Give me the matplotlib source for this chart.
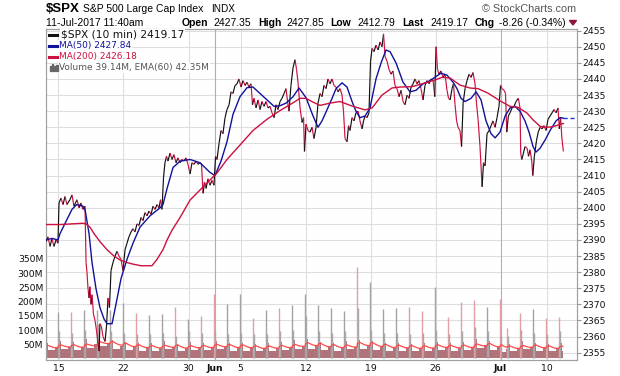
import numpy as np
import matplotlib
matplotlib.use("Agg")
import matplotlib.pyplot as plt
from matplotlib.collections import LineCollection
from matplotlib.patches import Polygon, Rectangle
from matplotlib.lines import Line2D
from matplotlib.transforms import blended_transform_factory

plt.rcParams['font.family'] = ['DejaVu Sans']

# trading days on the chart (May 12 only partly visible, Jul 11 still live)
days = ['May 12', 'May 15', 'May 16', 'May 17', 'May 18', 'May 19', 'May 22', 'May 23',
        'May 24', 'May 25', 'May 26', 'May 30', 'May 31', 'Jun 1', 'Jun 2', 'Jun 5',
        'Jun 6', 'Jun 7', 'Jun 8', 'Jun 9', 'Jun 12', 'Jun 13', 'Jun 14', 'Jun 15',
        'Jun 16', 'Jun 19', 'Jun 20', 'Jun 21', 'Jun 22', 'Jun 23', 'Jun 26', 'Jun 27',
        'Jun 28', 'Jun 29', 'Jun 30', 'Jul 3', 'Jul 5', 'Jul 6', 'Jul 7', 'Jul 10', 'Jul 11']
day_bars = [39] * 35 + [21] + [39] * 5          # 10 min bars per session (Jul 3 half day)

tick_days = ['May 15', 'May 22', 'May 30', 'Jun 1', 'Jun 5', 'Jun 12', 'Jun 19', 'Jun 26', 'Jul 3', 'Jul 10']
tick_labels = ['15', '22', '30', 'Jun', '5', '12', '19', '26', 'Jul', '10']

# $SPX 10 min closes, time in trading days from the May 15 open
price_t = [-0.96, -0.81, -0.65, -0.50, -0.35, -0.19, -0.04, 0.04, 0.19, 0.35,
           0.50, 0.65, 0.88, 1.04, 1.19, 1.42, 1.58, 1.73, 1.88, 2.04,
           2.12, 2.19, 2.27, 2.35, 2.42, 2.50, 2.58, 2.69, 2.81, 2.92,
           3.04, 3.12, 3.19, 3.31, 3.42, 3.58, 3.69, 3.81, 3.92, 4.04,
           4.19, 4.35, 4.50, 4.65, 4.81, 4.96, 5.12, 5.27, 5.42, 5.58,
           5.73, 5.88, 6.04, 6.19, 6.35, 6.50, 6.65, 6.81, 6.96, 7.12,
           7.27, 7.42, 7.58, 7.73, 7.85, 7.96, 8.08, 8.19, 8.31, 8.42,
           8.58, 8.73, 8.88, 9.04, 9.19, 9.35, 9.50, 9.65, 9.81, 9.96,
           10.12, 10.27, 10.42, 10.58, 10.73, 10.88, 11.00, 11.12, 11.23, 11.35,
           11.50, 11.65, 11.81, 11.96, 12.08, 12.19, 12.35, 12.50, 12.65, 12.81,
           12.96, 13.12, 13.27, 13.42, 13.58, 13.73, 13.88, 14.04, 14.19, 14.35,
           14.50, 14.65, 14.81, 14.92, 15.04, 15.19, 15.35, 15.50, 15.65, 15.81,
           15.96, 16.12, 16.27, 16.42, 16.58, 16.73, 16.88, 17.04, 17.19, 17.35,
           17.50, 17.62, 17.73, 17.88, 18.04, 18.19, 18.31, 18.42, 18.58, 18.73,
           18.85, 18.92, 19.04, 19.19, 19.35, 19.50, 19.65, 19.81, 19.96, 20.12,
           20.27, 20.42, 20.58, 20.73, 20.88, 21.04, 21.19, 21.35, 21.50, 21.65,
           21.81, 21.92, 22.04, 22.19, 22.31, 22.42, 22.58, 22.73, 22.88, 23.04,
           23.19, 23.35, 23.46, 23.58, 23.73, 23.88, 24.00, 24.12, 24.27, 24.42,
           24.58, 24.73, 24.88, 25.00, 25.12, 25.27, 25.42, 25.58, 25.73, 25.88,
           26.04, 26.19, 26.35, 26.50, 26.65, 26.81, 26.96, 27.12, 27.27, 27.42,
           27.58, 27.73, 27.88, 28.04, 28.19, 28.35, 28.50, 28.65, 28.81, 28.94,
           29.04, 29.15, 29.27, 29.42, 29.58, 29.73, 29.88, 30.00, 30.12, 30.27,
           30.38, 30.50, 30.62, 30.73, 30.88, 31.00, 31.12, 31.27, 31.42, 31.58,
           31.73, 31.88, 32.04, 32.15, 32.27, 32.42, 32.58, 32.69, 32.81, 32.96,
           33.12, 33.27, 33.42, 33.58, 33.73, 33.88, 34.00, 34.12, 34.27, 34.38,
           34.48, 34.60, 34.73, 34.88, 35.04, 35.19, 35.37, 35.50, 35.55, 35.63,
           35.73, 35.88, 36.04, 36.15, 36.27, 36.40, 36.48, 36.60, 36.77, 36.90,
           37.04, 37.19, 37.35, 37.50, 37.65, 37.81, 37.96, 38.12, 38.27, 38.42,
           38.52, 38.62, 38.71, 38.83]
price_v = [2389.5, 2391, 2388, 2390.5, 2388, 2390, 2389, 2401.5, 2403, 2401,
           2403.5, 2401, 2402.5, 2404, 2400.5, 2402.5, 2400, 2401.5, 2399.5, 2400.5,
           2383, 2380, 2375, 2372, 2375.5, 2370, 2373, 2367, 2365, 2362,
           2358, 2355.5, 2364, 2363, 2360, 2358.5, 2363, 2372, 2369, 2380.5,
           2383, 2385, 2386.5, 2385, 2384, 2380.5, 2387, 2389, 2391, 2392.5,
           2393.5, 2392.5, 2395, 2394.5, 2397, 2396, 2398.5, 2397.5, 2399, 2398,
           2400.5, 2399.5, 2401, 2400, 2402.5, 2399.5, 2409.5, 2414, 2416, 2414.5,
           2417, 2415, 2416.5, 2414, 2415.5, 2414, 2415, 2414.5, 2415.5, 2413.5,
           2410.5, 2414, 2413.5, 2414.5, 2413.5, 2414, 2413.5, 2404.5, 2408, 2406,
           2409, 2407, 2408.5, 2407, 2416, 2415, 2420, 2424, 2423, 2428,
           2430.5, 2432, 2436, 2435.5, 2438, 2438.5, 2440, 2437.5, 2439.5, 2438,
           2439, 2437.5, 2438.5, 2432, 2434, 2431, 2433.5, 2430.5, 2433, 2431.5,
           2433, 2431, 2431.5, 2429.5, 2428, 2432, 2430.5, 2433, 2434, 2435.5,
           2437, 2433, 2430, 2438, 2443.5, 2446, 2443, 2439, 2431, 2426.5,
           2428, 2417.5, 2426, 2424, 2423.5, 2425, 2421.5, 2425, 2432.5, 2435.5,
           2434.5, 2438, 2437, 2440, 2438.5, 2440, 2438, 2437.5, 2436, 2437,
           2435, 2430, 2421.5, 2420.5, 2425.5, 2424, 2428, 2427, 2429.5, 2430,
           2427, 2424.5, 2427, 2428.5, 2428, 2429.5, 2445.5, 2449.5, 2448.5, 2450.5,
           2449, 2451.5, 2450, 2454, 2447, 2445.5, 2443, 2441.5, 2442.5, 2438,
           2437, 2434.5, 2436.5, 2433, 2432, 2435, 2434, 2437.5, 2438.5, 2440,
           2438.5, 2439.5, 2437, 2433.5, 2438, 2439.5, 2438.5, 2440, 2439.5, 2434.5,
           2450, 2443, 2441.5, 2442.5, 2440.5, 2441.5, 2436.5, 2434, 2433.5, 2437,
           2438.5, 2432, 2427, 2425, 2424, 2419, 2432.5, 2437, 2439.5, 2441.5,
           2440.5, 2442, 2438.5, 2432.5, 2427.5, 2419, 2406.5, 2414, 2413, 2423,
           2424, 2425.5, 2427, 2425, 2428, 2431.5, 2438, 2437, 2436.5, 2435.5,
           2423.5, 2428.5, 2429.5, 2431, 2431.5, 2433, 2434, 2431, 2417, 2415,
           2416.5, 2419, 2418.5, 2416, 2418, 2414.5, 2410, 2416, 2421, 2423.5,
           2425, 2424.5, 2425.5, 2424, 2427.5, 2428.5, 2429.5, 2430.5, 2429.5, 2431,
           2424.5, 2428, 2422, 2417.5]

ma50_t = [-0.96, -0.50, -0.04, 0.12, 0.63, 1.04, 1.40, 1.88, 2.04, 2.35,
          2.58, 2.88, 3.19, 3.50, 3.73, 4.12, 4.42, 4.81, 5.27, 5.73,
          6.27, 7.04, 7.81, 8.04, 8.35, 8.81, 9.35, 10.12, 10.88, 11.65,
          12.04, 12.50, 12.96, 13.42, 13.96, 14.50, 14.96, 15.50, 16.04, 16.58,
          17.04, 17.50, 18.04, 18.50, 19.04, 19.58, 19.96, 20.27, 20.65, 21.04,
          21.35, 21.81, 22.19, 22.58, 22.88, 23.19, 23.58, 23.96, 24.42, 24.81,
          25.19, 25.50, 25.96, 26.50, 27.04, 27.50, 28.04, 28.58, 29.12, 29.42,
          29.88, 30.35, 30.65, 30.96, 31.27, 31.73, 32.12, 32.50, 32.88, 33.27,
          33.58, 33.96, 34.35, 34.73, 35.12, 35.50, 35.88, 36.19, 36.50, 36.73,
          37.04, 37.42, 37.81, 38.27, 38.58, 38.83]
ma50_v = [2390, 2390.5, 2390, 2392, 2396.2, 2399.5, 2401, 2400.5, 2399.5, 2392,
          2383, 2375, 2369, 2365.5, 2364, 2364, 2370, 2378, 2384, 2389,
          2394, 2397.5, 2400, 2401, 2406, 2412.5, 2414.5, 2415, 2414, 2411,
          2410, 2414.5, 2420.5, 2429, 2434.5, 2437.3, 2437.5, 2435.5, 2433.5, 2431.5,
          2431.7, 2432.5, 2434.5, 2437.2, 2434.2, 2428.5, 2425, 2427, 2430.4, 2434,
          2437, 2438.8, 2437.5, 2433, 2430, 2428, 2428.5, 2431, 2440, 2445,
          2449, 2448.5, 2445, 2439, 2436, 2436.5, 2438.5, 2439.5, 2441, 2441.8,
          2441.2, 2439, 2437, 2434, 2433, 2434, 2436, 2433.5, 2427, 2423,
          2421.7, 2423.5, 2428.5, 2431, 2431.5, 2430, 2427, 2423.5, 2419, 2417.3,
          2418.5, 2421, 2424, 2427, 2428, 2427.84]

ma200_t = [-0.96, 0.12, 1.04, 1.88, 2.12, 2.42, 2.73, 3.19, 3.73, 4.27,
           4.73, 5.27, 5.73, 6.35, 6.73, 7.19, 7.58, 8.04, 8.35, 8.73,
           9.35, 10.12, 10.88, 11.42, 12.19, 12.96, 13.96, 14.96, 16.04, 17.04,
           18.04, 18.58, 19.04, 19.58, 20.12, 20.88, 21.65, 22.58, 23.58, 24.12,
           24.88, 25.65, 26.27, 27.19, 27.96, 28.88, 29.50, 30.12, 30.88, 31.65,
           32.27, 33.04, 33.96, 34.73, 35.35, 36.04, 36.50, 37.04, 37.58, 38.04,
           38.42, 38.83]
ma200_v = [2394.8, 2394.8, 2395, 2395.2, 2395, 2394, 2392, 2389.5, 2387, 2385,
           2383.8, 2383, 2382.5, 2382, 2382, 2382, 2384, 2387, 2390, 2393,
           2397, 2402.4, 2405.5, 2407.7, 2410.8, 2415, 2419.5, 2424, 2427.5, 2430.2,
           2432.6, 2434, 2434, 2432.8, 2431.8, 2432.5, 2433, 2431.6, 2430.4, 2431,
           2435, 2437.2, 2437.5, 2437.6, 2438.5, 2439.6, 2440.5, 2440.3, 2438.1, 2437.2,
           2437, 2435.6, 2433.2, 2431.5, 2431.2, 2429.4, 2427.3, 2425.3, 2425, 2425.2,
           2425.7, 2426.18]

# volume (millions) per session: opening bar, first hour, midday, afternoon, closing bar
vol_open = [90, 95, 90, 100, 120, 95, 90, 85, 85, 90, 80, 95, 90, 95, 85, 90, 85, 85, 95, 100,
            150, 95, 90, 95, 177, 100, 90, 90, 85, 90, 100, 85, 95, 110, 95, 80, 80, 100, 90, 85, 95]
vol_am = [55, 62, 58, 70, 85, 65, 58, 55, 55, 62, 52, 58, 55, 62, 55, 55, 52, 55, 58, 65,
          68, 58, 55, 62, 65, 60, 55, 55, 52, 55, 58, 55, 58, 68, 60, 48, 50, 62, 55, 52, 55]
vol_mid = [30, 32, 30, 38, 45, 35, 30, 28, 28, 32, 26, 30, 30, 32, 28, 28, 26, 28, 30, 35,
           35, 30, 28, 32, 35, 30, 28, 28, 26, 28, 30, 28, 30, 36, 30, 24, 26, 32, 28, 26, 28]
vol_pm = [40, 42, 40, 50, 55, 45, 40, 38, 38, 42, 36, 40, 42, 42, 38, 38, 36, 38, 40, 45,
          45, 40, 38, 42, 45, 40, 38, 38, 36, 38, 40, 38, 40, 48, 40, 32, 36, 42, 38, 36, 0]
vol_close = [164, 164, 170, 170, 170, 195, 161, 153, 156, 182, 139, 149, 227, 192, 227, 142,
             170, 177, 188, 227, 188, 177, 167, 323, 270, 174, 179, 182, 168, 252, 147, 200,
             206, 182, 209, 108, 161, 174, 143, 145, 0]
close_up = [1, 0, 1, 1, 1, 1, 0, 1, 1, 0, 1, 0, 0, 1, 1, 0, 1, 0, 1, 1,
            1, 1, 1, 0, 1, 1, 1, 0, 0, 1, 0, 0, 0, 1, 0, 0, 0, 1, 0, 0, 0]

BLACK = '#111111'
RED = '#cc1040'
BLUE = '#11119a'
GRID = '#dedede'

W, H = 620, 376
fig = plt.figure(figsize=(W / 100, H / 100), dpi=100)
ax_vol = fig.add_axes([46 / W, 1 - 360 / H, (577 - 46) / W, (360 - 29.3) / H])
ax = ax_vol.twinx()
ax.set_zorder(ax_vol.get_zorder() + 1)
ax.patch.set_visible(False)

x0, x1 = -0.96, 39.88
ax_vol.set_xlim(x0, x1)
ax.set_ylim(2352.73, 2455.43)
ax_vol.set_ylim(-5.3, 1157.5)

starts = -1 + np.concatenate([[0], np.cumsum(day_bars)[:-1]]) / 39
lens = np.array(day_bars) / 39
bar = 1 / 39
t_end = price_t[-1]

# grid (drawn in the volume layer so it sits under everything)
hgrid = blended_transform_factory(ax_vol.transAxes, ax.transData)
for p in range(2355, 2456, 5):
    ax_vol.plot([0, 1], [p, p], transform=hgrid, color=GRID, lw=0.8, zorder=0)
tick_pos = [starts[days.index(d)] for d in tick_days]
for d, pos in zip(tick_days, tick_pos):
    dark = d in ('Jun 1', 'Jul 3')
    ax_vol.axvline(pos, color='#b0b0b0' if dark else GRID, lw=0.8, zorder=0)

# volume blocks
lefts, widths, heights = [], [], []
sx, sh, sc = [], [], []
bar_t, bar_v = [], []
for i in range(len(days)):
    s, L = starts[i], lens[i]
    edges = [s + bar, s + 0.2 * L, s + 0.72 * L, s + L - bar]
    for a, b, h in zip(edges[:-1], edges[1:], [vol_am[i], vol_mid[i], vol_pm[i]]):
        b = min(b, t_end)
        if b > a and h > 0:
            lefts.append(a); widths.append(b - a); heights.append(h)
    sx.append(s + 0.5 * bar); sh.append(vol_open[i]); sc.append('#a8a8a8')
    if vol_close[i] > 0:
        sx.append(s + L - 0.5 * bar); sh.append(vol_close[i])
        sc.append('#a3a3a3' if close_up[i] else '#e0a0a4')
    for k in range(day_bars[i]):
        tk = s + (k + 0.5) * bar
        if tk > t_end:
            break
        if k == 0:
            v = vol_open[i]
        elif k == day_bars[i] - 1:
            v = vol_close[i]
        elif tk < edges[1]:
            v = vol_am[i]
        elif tk < edges[2]:
            v = vol_mid[i]
        else:
            v = vol_pm[i]
        bar_t.append(tk); bar_v.append(v)

ax_vol.bar(lefts, heights, width=widths, align='edge', color='#b0737a', lw=0, zorder=1)
ax_vol.vlines(sx, 0, sh, colors=sc, lw=1.0, zorder=1)

ema = []
e = 42.0
for v in bar_v:
    e = e + 2 / 61 * (v - e)
    ema.append(e)
ax_vol.plot(bar_t, ema, color='#ff4a4a', lw=0.9, zorder=2)

# price line, black on up moves, red on down moves
pts = np.column_stack([price_t, price_v])
segs = np.stack([pts[:-1], pts[1:]], axis=1)
cols = [BLACK if b >= a else RED for a, b in zip(price_v[:-1], price_v[1:])]
ax.add_collection(LineCollection(segs, colors=cols, linewidths=0.85, zorder=3))

ax.plot(ma50_t, ma50_v, color=BLUE, lw=1.0, zorder=4)
ax.plot(ma200_t, ma200_v, color=RED, lw=1.0, zorder=4)
ax.plot([ma50_t[-1], x1], [ma50_v[-1], ma50_v[-1]], color='#2233ee', lw=1.0, ls=(0, (3, 2)), zorder=4)

# axes styling
ax.set_yticks(range(2355, 2456, 5))
ax.tick_params(axis='y', right=True, length=3, width=0.8, color='#999999', pad=1,
               labelsize=6.7, labelcolor='#111111')
vt = [50, 100, 150, 200, 250, 300, 350]
ax_vol.set_yticks(vt, [f'{v}M' for v in vt])
ax_vol.tick_params(axis='y', left=True, length=0, pad=2, labelsize=6.7, labelcolor='#111111')
ax_vol.set_xticks(tick_pos, tick_labels)
ax_vol.tick_params(axis='x', length=0, pad=3, labelsize=6.7, labelcolor='#111111')
for lbl in ax_vol.get_xticklabels():
    if lbl.get_text() in ('Jun', 'Jul'):
        lbl.set_fontweight('bold')
for a in (ax, ax_vol):
    for sp in a.spines.values():
        sp.set_color('#a0a0a0')
        sp.set_linewidth(0.8)


def fx(x):
    return x / W


def fy(y):
    return 1 - y / H


# header
hf = 'Liberation Sans'
fig.text(fx(46), fy(9.5), '$SPX', fontsize=9.5, fontweight='bold', family=hf, va='center')
fig.text(fx(83), fy(9.5), 'S&P 500 Large Cap Index', fontsize=7.5, family=hf, va='center')
fig.text(fx(211.5), fy(9.5), 'INDX', fontsize=7.2, family=hf, va='center')
fig.text(fx(576), fy(9.5), '\u00a9 StockCharts.com', fontsize=7.8, family=hf, color='#555555',
         va='center', ha='right')
row2 = [(46, '11-Jul-2017 11:40am', 'normal'), (182, 'Open', 'bold'), (213.5, '2427.35', 'normal'),
        (258, 'High', 'bold'), (286.5, '2427.85', 'normal'), (330.5, 'Low', 'bold'),
        (357.5, '2412.79', 'normal'), (402.5, 'Last', 'bold'), (430, '2419.17', 'normal'),
        (475, 'Chg', 'bold'), (499, '-8.26 (-0.34%)', 'normal')]
for x, s, w in row2:
    fig.text(fx(x), fy(22.7), s, fontsize=7.5, fontweight=w, family=hf, va='center')
fig.add_artist(Polygon([[fx(569.5), fy(20.5)], [fx(576.5), fy(20.5)], [fx(573), fy(25)]],
                       closed=True, transform=fig.transFigure, color='#8e1538'))

# legend block inside the plot
leg = [(34.5, '$SPX (10 min) 2419.17', BLACK, 7.7, 61),
       (45.8, 'MA(50) 2427.84', BLUE, 6.5, 59),
       (56.8, 'MA(200) 2426.18', RED, 6.5, 59),
       (67.8, 'Volume 39.14M, EMA(60) 42.35M', '#555555', 6.5, 59)]
for y, s, c, fs, x in leg:
    fig.text(fx(x), fy(y), s, fontsize=fs, color=c, va='center', zorder=6,
             bbox=dict(facecolor='white', edgecolor='none', pad=0.6))
for y, c in [(34.5, BLACK), (45.8, BLUE), (56.8, RED)]:
    fig.add_artist(Line2D([fx(49), fx(57)], [fy(y), fy(y)], color=c, lw=2.2,
                          transform=fig.transFigure, zorder=7))
for dx, hh in [(0, 5), (2.2, 7), (4.4, 4.5), (6.6, 6)]:
    fig.add_artist(Rectangle((fx(49.5 + dx), fy(71)), 1.5 / W, hh / H, color='#666666',
                             transform=fig.transFigure, zorder=7))

fig.savefig('out.png', dpi=100)
